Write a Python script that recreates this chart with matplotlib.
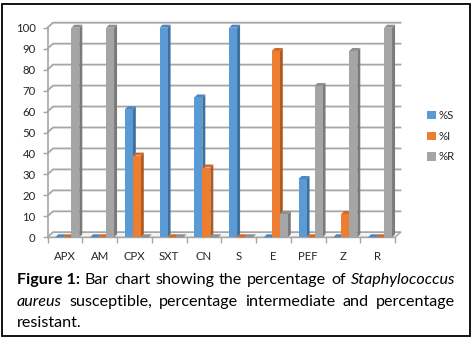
import numpy as np
import matplotlib
matplotlib.use("Agg")
import matplotlib.pyplot as plt
from matplotlib.patches import Polygon, Rectangle, Patch

# Antibiotic susceptibility of S. aureus (percent)
drugs = ["APX", "AM", "CPX", "SXT", "CN", "S", "E", "PEF", "Z", "R"]
pct_s = [0, 0, 61, 100, 66.7, 100, 0, 27.8, 0, 0]
pct_i = [0, 0, 39, 0, 33.3, 0, 88.9, 0, 11.1, 0]
pct_r = [100, 100, 0, 0, 0, 0, 11.1, 72.2, 88.9, 100]
series_names = ["%S", "%I", "%R"]
y_ticks = list(range(0, 101, 10))

# face / side / top colours for each series
face_cols = ["#5b9bd5", "#ed7d31", "#a5a5a5"]
side_cols = ["#3f6f9c", "#ae5a21", "#7a7a7a"]
top_cols = ["#4a86c0", "#d06a28", "#8f8f8f"]

W, H = 473, 338
fig = plt.figure(figsize=(W / 100, H / 100), dpi=100)
fig.patch.set_facecolor("white")

# axes placed in pixel terms (front plane of the fake 3D box)
left_px, right_px, y0_px, y100_px = 47.5, 395.0, 237.3, 27.7
ax = fig.add_axes([left_px / W, (H - y0_px) / H,
                   (right_px - left_px) / W, (y0_px - y100_px) / H])
ax.set_xlim(-0.5, 9.5)
ax.set_ylim(0, 100)
ax.patch.set_visible(False)

px_x = (right_px - left_px) / 10.0
px_y = (y0_px - y100_px) / 100.0
DX, DY = 5.5 / px_x, 5.0 / px_y        # wall depth
bdx, bdy = 3.0 / px_x, 3.0 / px_y      # bar depth
bw = 0.23
shift = 0.07
grid_col = "#a6a6a6"

# back wall gridlines with the diagonal to the left wall
for v in y_ticks:
    ax.plot([-0.5, -0.5 + DX, 9.5 + DX], [v, v + DY, v + DY],
            color=grid_col, lw=1.3, zorder=1, clip_on=False)

# floor
floor = Polygon([(-0.5, 0), (9.5, 0), (9.5 + DX, DY), (-0.5 + DX, DY)],
                closed=True, facecolor="#f4f4f4", edgecolor=grid_col,
                lw=1.0, zorder=1.5, clip_on=False)
ax.add_patch(floor)

# bars drawn as front face + side + top cap
x = np.arange(len(drugs))
for j, vals in enumerate([pct_s, pct_i, pct_r]):
    xs = x + (j - 1) * bw + shift
    ax.bar(xs, vals, width=bw, color=face_cols[j], zorder=4 + 2 * j,
           linewidth=0)
    for xc, v in zip(xs, vals):
        xr = xc + bw / 2
        xl = xc - bw / 2
        side = Polygon([(xr, 0), (xr + bdx, bdy), (xr + bdx, v + bdy), (xr, v)],
                       closed=True, facecolor=side_cols[j], lw=0,
                       zorder=3 + 2 * j, clip_on=False)
        top = Polygon([(xl, v), (xr, v), (xr + bdx, v + bdy), (xl + bdx, v + bdy)],
                      closed=True, facecolor=top_cols[j], lw=0,
                      zorder=3 + 2 * j, clip_on=False)
        ax.add_patch(side)
        ax.add_patch(top)

# axes cosmetics
for s in ["top", "right"]:
    ax.spines[s].set_visible(False)
ax.spines["left"].set_color(grid_col)
ax.spines["left"].set_linewidth(1.2)
ax.spines["bottom"].set_color(grid_col)
ax.spines["bottom"].set_linewidth(1.0)

tick_font = dict(family="Lato", size=8.2)
ax.set_yticks(y_ticks)
ax.set_yticklabels([str(t) for t in y_ticks], fontdict=tick_font, color="#262626")
ax.tick_params(axis="y", length=3.5, width=1.0, color=grid_col, pad=5)

ax.set_xticks(x)
ax.set_xticklabels(drugs, fontdict=tick_font, color="#262626")
ax.set_xticks(np.arange(-0.5, 10, 1.0), minor=True)
ax.tick_params(axis="x", which="major", length=0, pad=10)
ax.tick_params(axis="x", which="minor", length=4, width=1.0, color=grid_col)

# legend
handles = [Patch(facecolor=c, edgecolor="none") for c in face_cols]
fig.legend(handles, series_names, loc="upper left",
           bbox_to_anchor=(427 / W, (H - 110) / H), frameon=False,
           prop=dict(family="Lato", size=8.2), labelcolor="#262626",
           handlelength=0.75, handleheight=0.75, handletextpad=0.3,
           labelspacing=0.85, borderpad=0, borderaxespad=0)

# outer frame
fig.patches.append(Rectangle((1.5 / W, 2.0 / H), 468.5 / W, 332.5 / H,
                             transform=fig.transFigure, fill=False,
                             edgecolor="black", lw=1.3))

# justified caption
renderer = fig.canvas.get_renderer()
cap_font = dict(family="Lato", size=11.6, color="black")


def caption_line(y_px, words, x0=17, x1=455, justify=True):
    texts = []
    for word, style in words:
        t = fig.text(0, 1 - y_px / H, word, va="center", ha="left",
                     **cap_font, **style)
        texts.append(t)
    widths = [t.get_window_extent(renderer).width for t in texts]
    if justify and len(texts) > 1:
        gap = (x1 - x0 - sum(widths)) / (len(texts) - 1)
    else:
        gap = 4.0
    xp = x0
    for t, w in zip(texts, widths):
        t.set_x(xp / W)
        xp += w + gap


plain, bold, ital = {}, {"weight": "bold"}, {"style": "italic"}
caption_line(280, [("Figure 1:", bold), ("Bar", plain), ("chart", plain),
                   ("showing", plain), ("the", plain), ("percentage", plain),
                   ("of", plain), ("Staphylococcus", ital)])
caption_line(302, [("aureus", ital), ("susceptible,", plain),
                   ("percentage", plain), ("intermediate", plain),
                   ("and", plain), ("percentage", plain)])
caption_line(323, [("resistant.", plain)], justify=False)

fig.savefig("out.png", dpi=100)
